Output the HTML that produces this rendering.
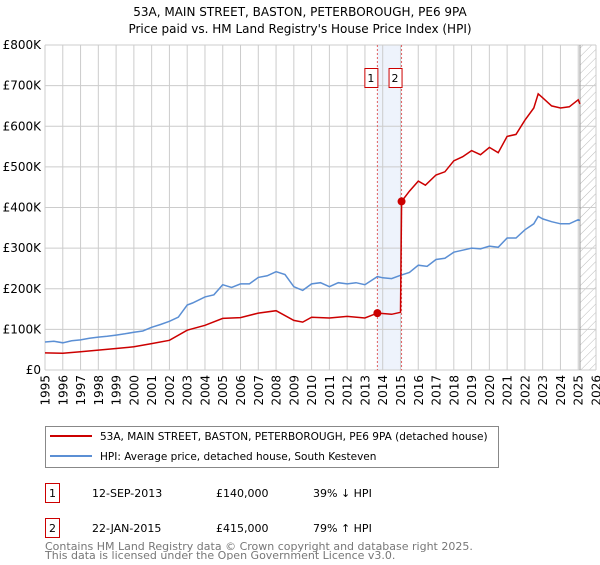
<!DOCTYPE html>
<html><head><meta charset="utf-8">
<style>
body{margin:0;background:#fff;font-family:"Liberation Sans","DejaVu Sans",sans-serif;}
svg text{font-family:"DejaVu Sans","Liberation Sans",sans-serif;}
</style></head>
<body>
<svg id="chart" width="600" height="560" xmlns="http://www.w3.org/2000/svg">
<text x="300" y="16" text-anchor="middle" font-size="12">53A, MAIN STREET, BASTON, PETERBOROUGH, PE6 9PA</text>
<text x="300" y="33" text-anchor="middle" font-size="12">Price paid vs. HM Land Registry's House Price Index (HPI)</text>
<defs><pattern id="hatch" width="6" height="6" patternUnits="userSpaceOnUse" patternTransform="rotate(45)"><line x1="0" y1="0" x2="0" y2="6" stroke="#bbb" stroke-width="1"/></pattern></defs>
<g id="grid"></g><g id="marks"></g><g id="axes"></g>
<g>
<rect x="45.5" y="426.5" width="453" height="41" fill="#fff" stroke="#888"/>
<line x1="50" y1="436" x2="92" y2="436" stroke="#cc0000" stroke-width="2"/>
<text x="100" y="440" font-size="10.5">53A, MAIN STREET, BASTON, PETERBOROUGH, PE6 9PA (detached house)</text>
<line x1="50" y1="456" x2="92" y2="456" stroke="#5b8fd4" stroke-width="2"/>
<text x="100" y="460" font-size="10.5">HPI: Average price, detached house, South Kesteven</text>
</g>
<g font-size="11">
<rect x="45.5" y="483.5" width="14" height="19" fill="#fff" stroke="#cc0000"/>
<text x="52.5" y="497" text-anchor="middle">1</text>
<text x="92" y="497">12-SEP-2013</text><text x="216" y="497">£140,000</text><text x="313" y="497">39% ↓ HPI</text>
<rect x="45.5" y="518.5" width="14" height="19" fill="#fff" stroke="#cc0000"/>
<text x="52.5" y="532" text-anchor="middle">2</text>
<text x="92" y="532">22-JAN-2015</text><text x="216" y="532">£415,000</text><text x="313" y="532">79% ↑ HPI</text>
</g>
<text x="45" y="538" font-size="11" fill="#777" dy="12">Contains HM Land Registry data © Crown copyright and database right 2025.</text>
<text x="45" y="561" font-size="11" fill="#777" dy="-2">This data is licensed under the Open Government Licence v3.0.</text>
</svg>
<script>
const hpiYears=[1995,1995.5,1996,1996.5,1997,1997.5,1998,1998.5,1999,1999.5,2000,2000.5,2001,2001.5,2002,2002.5,2003,2003.3,2004,2004.5,2005,2005.5,2006,2006.5,2007,2007.5,2008,2008.5,2009,2009.5,2010,2010.5,2011,2011.5,2012,2012.5,2013,2013.7,2014,2014.5,2015,2015.5,2016,2016.5,2017,2017.5,2018,2018.5,2019,2019.5,2020,2020.5,2021,2021.5,2022,2022.5,2022.75,2023,2023.5,2024,2024.5,2025,2025.1];
const hpiValues=[69,71,67,72,74,78,81,83,86,89,93,96,105,112,120,130,160,165,180,185,210,203,212,212,228,232,242,235,205,196,212,215,205,215,212,215,210,230,227,225,233,240,258,255,272,275,290,295,300,298,305,302,325,325,345,360,378,372,365,360,360,370,368];
const priceYears=[1995,1996,1997,1998,1999,2000,2001,2002,2003,2004,2005,2006,2007,2008,2009,2009.5,2010,2011,2012,2013,2013.7,2014.5,2015.0,2015.06,2015.5,2016,2016.4,2017,2017.5,2018,2018.5,2019,2019.5,2020,2020.5,2021,2021.5,2022,2022.5,2022.75,2023,2023.5,2024,2024.5,2025,2025.1];
const priceValues=[42,41,45,49,53,57,65,73,98,110,127,129,140,146,122,118,130,128,132,128,140,137,142,415,440,465,455,480,488,515,525,540,530,548,535,575,580,615,645,680,670,650,645,648,665,655];
const saleYears=[2013.7,2015.06];
const saleValues=[140,415];
const saleLabels=["1","2"];
const yTicks=[0,100,200,300,400,500,600,700,800];
const yTickLabels=["£0","£100K","£200K","£300K","£400K","£500K","£600K","£700K","£800K"];
const xTicks=[1995,1996,1997,1998,1999,2000,2001,2002,2003,2004,2005,2006,2007,2008,2009,2010,2011,2012,2013,2014,2015,2016,2017,2018,2019,2020,2021,2022,2023,2024,2025,2026];

const L=45,R=596,T=45,B=370;
const x=y=>L+(y-1995)/(2026-1995)*(R-L);
const yv=v=>B-v/800*(B-T);
const NS="http://www.w3.org/2000/svg";
function mk(tag,attrs,parent){const e=document.createElementNS(NS,tag);for(const k in attrs)e.setAttribute(k,attrs[k]);parent.appendChild(e);return e;}
const grid=document.getElementById('grid'),marks=document.getElementById('marks'),axes=document.getElementById('axes');
mk('rect',{x:L,y:T,width:R-L,height:B-T,fill:'#fff'},grid);
let band=mk('rect',{x:x(saleYears[0]),y:T,width:x(saleYears[1])-x(saleYears[0]),height:B-T,fill:'#eef3fc'},grid);


let hatch=mk('rect',{x:x(2025.1),y:T,width:R-x(2025.1),height:B-T,fill:'url(#hatch)'},grid);


xTicks.forEach(t=>{mk('line',{x1:x(t),y1:T,x2:x(t),y2:B,stroke:'#ccc'},grid);
 const tx=mk('text',{x:0,y:0,'font-size':12,'text-anchor':'end',transform:`translate(${x(t)+4.5},${B+5}) rotate(-90)`},axes);
 tx.textContent=t;
 
 });
yTicks.forEach((t,i)=>{mk('line',{x1:L,y1:yv(t),x2:R,y2:yv(t),stroke:'#ccc'},grid);
 const tx=mk('text',{x:L-4,y:yv(t)+4,'font-size':12,'text-anchor':'end'},axes);
 tx.textContent=yTickLabels[i];
 
 });
mk('line',{x1:x(2025.1),y1:T,x2:x(2025.1),y2:B,stroke:'#999'},grid);
saleYears.forEach(s=>mk('line',{x1:x(s),y1:T,x2:x(s),y2:B,stroke:'#e06060','stroke-dasharray':'2,2'},grid));
const path=(xs,vs)=>xs.map((t,i)=>(i?'L':'M')+x(t).toFixed(1)+','+yv(vs[i]).toFixed(1)).join('');
let h=mk('path',{d:path(hpiYears,hpiValues),fill:'none',stroke:'#5b8fd4','stroke-width':1.5},marks);


let p=mk('path',{d:path(priceYears,priceValues),fill:'none',stroke:'#cc0000','stroke-width':1.5},marks);


saleYears.forEach((s,i)=>{
 const c=mk('circle',{cx:x(s),cy:yv(saleValues[i]),r:4,fill:'#cc0000'},marks);
 
 
 const r=mk('rect',{x:x(s)-13+0.5,y:68.5,width:13,height:19,fill:'#fff',stroke:'#cc0000'},marks);
 
 
 const t=mk('text',{x:x(s)-6.5,y:82,'font-size':11,'text-anchor':'middle'},marks);
 t.textContent=saleLabels[i];
 
 
});
</script>
</body></html>
